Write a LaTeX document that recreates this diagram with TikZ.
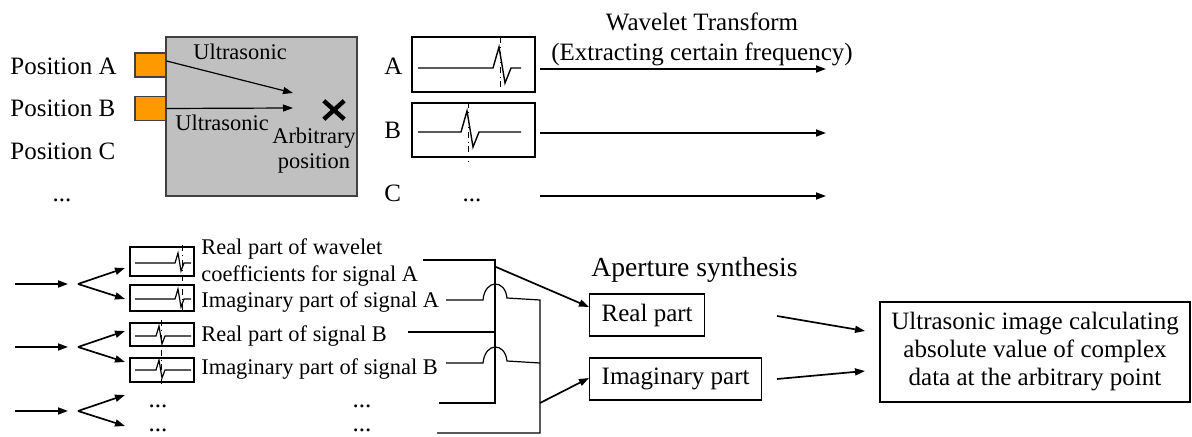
\documentclass[tikz,border=0pt]{standalone}
\usepackage{fontspec}
\setmainfont{Liberation Serif}
\usetikzlibrary{arrows.meta,shapes.misc}
\definecolor{probe}{HTML}{FF9900}
\definecolor{specimen}{HTML}{C0C0C0}
\definecolor{edge}{HTML}{404040}
\tikzset{
  bigtext/.style={font=\fontsize{12.5}{15}\selectfont,inner sep=0pt},
  smalltext/.style={font=\fontsize{11.2}{12.5}\selectfont,inner sep=0pt},
  probebox/.style={draw=edge,fill=probe,line width=0.6pt,minimum width=15.5pt,
    minimum height=12pt,inner sep=0pt},
  flow/.style={-{Triangle[length=5pt,width=3.5pt]},line width=0.85pt},
  thinflow/.style={-{Triangle[length=5pt,width=3.5pt]},line width=0.6pt},
  trace/.style={line width=0.7pt},
  marker/.style={dash dot,line width=0.5pt},
  wire/.style={line width=0.6pt},
  partbox/.style={draw,line width=0.7pt,font=\fontsize{12.5}{15}\selectfont,
    inner xsep=6pt,minimum height=21pt}
}

\begin{document}
\begin{tikzpicture}[x=0.5pt,y=-0.5pt]
  \useasboundingbox (0,0) rectangle (1192,437);

  % specimen with the probes
  \node[draw=edge,fill=specimen,line width=0.6pt,minimum width=95.5pt,
    minimum height=79.5pt,inner sep=0pt] (specimen) at (261.5,116.5) {};
  \node[probebox] (probeA) at (150.5,65) {};
  \node[probebox] (probeB) at (150.5,108.5) {};
  \node[bigtext,anchor=base west] (posA) at (10,75) {Position A};
  \node[bigtext,anchor=base west] (posB) at (10,117) {Position B};
  \node[bigtext,anchor=base west] (posC) at (10,160) {Position C};
  \node[bigtext,anchor=base] (posdots) at (62,202) {...};
  \coordinate (hitA) at (293,93);
  \coordinate (hitB) at (293,108);
  \draw[thinflow] ([yshift=2pt]probeA.east) -- (hitA);
  \draw[thinflow] (probeB.east) -- (hitB);
  \node[smalltext,anchor=base west] (usA) at (193,60) {Ultrasonic};
  \node[smalltext,anchor=base west] (usB) at (175,131) {Ultrasonic};
  \node[cross out,draw,line width=2.2pt,minimum width=8pt,minimum height=7pt,
    inner sep=0pt] (xmark) at (334,110) {};
  \node[smalltext,align=center] (arbit) at (314,151) {Arbitrary\\position};

  % recorded signals
  \foreach \ytop/\ybot/\yb/\px in {37/92/68/499,103/157/132/467}{
    \draw[line width=0.7pt] (412,\ytop) rectangle (535,\ybot);
    \draw[trace] (418,\yb) -- (\px-6,\yb) -- (\px,\yb-21) -- (\px+6,\yb+15)
      -- (\px+12,\yb) -- (521,\yb);
  }
  \draw[marker] (500,37) -- (500,92);
  \draw[marker] (468,102) -- (468,162);
  \foreach \lab/\y in {A/75,B/139,C/202}{
    \node[bigtext,anchor=base west] (lab\lab) at (384,\y) {\lab};
  }
  \node[bigtext,anchor=base] (sigdots) at (472,202) {...};
  \foreach \lab/\y in {A/69,B/133,C/196}{
    \coordinate (wtin\lab) at (540,\y);
    \coordinate (wtout\lab) at (826,\y);
    \draw[flow] (wtin\lab) -- (wtout\lab);
  }
  \node[bigtext,align=center] (wavelet) at (702,39)
    {Wavelet Transform\\(Extracting certain frequency)};

  % splitting into real and imaginary parts
  \foreach \lab/\y in {A/284,B/347,C/411}{
    \coordinate (in\lab) at (15,\y);
    \coordinate (end\lab) at (68,\y);
    \coordinate (fork\lab) at (78,\y);
    \coordinate (up\lab) at (125,\y-16);
    \coordinate (down\lab) at (125,\y+15);
    \draw[flow] (in\lab) -- (end\lab);
    \draw[flow] (fork\lab) -- (up\lab);
    \draw[flow] (fork\lab) -- (down\lab);
  }
  \foreach \ytop/\ybot/\yb/\px in {247/276/263/178,285/311/299/178,
      323/346/336/159,358/382/370/159}{
    \draw[line width=0.7pt] (130,\ytop) rectangle (194,\ybot);
    \draw[wire] (135,\yb) -- (\px-3,\yb) -- (\px,\yb-10) -- (\px+3,\yb+8)
      -- (\px+6,\yb) -- (191,\yb);
  }
  \draw[marker] (182,245) -- (182,312);
  \draw[marker] (161,320) -- (161,384);
  \node[smalltext,align=left,anchor=west,font=\fontsize{11.2}{13.5}\selectfont]
    (realA) at (201,263) {Real part of wavelet\\coefficients for signal A};
  \node[smalltext,anchor=base west] (imagA) at (201,308) {Imaginary part of signal A};
  \node[smalltext,anchor=base west] (realB) at (201,342) {Real part of signal B};
  \node[smalltext,anchor=base west] (imagB) at (201,375) {Imaginary part of signal B};
  \foreach \x in {158,362}{
    \node[bigtext,anchor=base] (dots\x a) at (\x,408) {...};
    \node[bigtext,anchor=base] (dots\x b) at (\x,431) {...};
  }

  % wires to the aperture synthesis
  \coordinate (busRtop) at (495,260);
  \coordinate (busRbot) at (495,403);
  \coordinate (busRtap) at (496,267);
  \coordinate (busItop) at (540,300);
  \coordinate (busIbot) at (540,433);
  \coordinate (busItap) at (540,403);
  \draw[wire] (423,260) -- (busRtop) -- (busRbot) -- (439,403);
  \draw[wire] (408,332) -- (495,332);
  \draw[wire] (446,300) -- (483,300) .. controls (485,279) and (505,279) .. (507,298)
    -- (busItop) -- (busIbot) -- (437,433);
  \draw[wire] (446,363) -- (483,363) .. controls (485,342) and (505,342) .. (507,361)
    -- (540,363);

  \node[font=\fontsize{13.8}{16}\selectfont,inner sep=0pt,anchor=base west]
    (aperture) at (591,277) {Aperture synthesis};
  \node[partbox,anchor=west] (real) at (589,315) {Real part};
  \node[partbox,anchor=west] (imag) at (589,379) {Imaginary part};
  \draw[flow] (busRtap) -- ([yshift=4pt]real.west);
  \draw[flow] (busItap) -- ([yshift=0.5pt]imag.west);

  \node[draw,line width=0.7pt,align=center,font=\fontsize{12.5}{14}\selectfont,
    minimum width=155pt,minimum height=50pt] (image) at (1035,352)
    {Ultrasonic image calculating\\absolute value of complex\\data at the arbitrary point};
  \coordinate (realout) at (777,316);
  \coordinate (imagout) at (777,379);
  \coordinate (imgin1) at (865,331);
  \coordinate (imgin2) at (865,371);
  \draw[flow] (realout) -- (imgin1);
  \draw[flow] (imagout) -- (imgin2);
\end{tikzpicture}
\end{document}
